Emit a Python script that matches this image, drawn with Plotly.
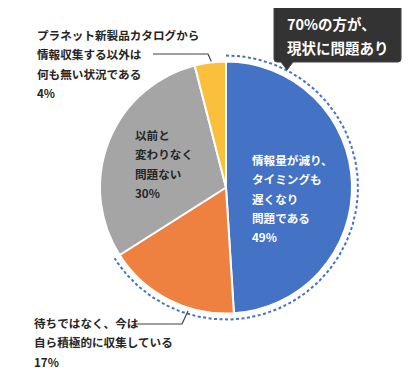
import numpy as np
import plotly.graph_objects as go

# ---- data ----
categories = ["情報量が減り、タイミングも遅くなり問題である",
              "待ちではなく、今は自ら積極的に収集している",
              "以前と変わりなく問題ない",
              "プラネット新製品カタログから情報収集する以外は何も無い状況である"]
values = [49, 17, 30, 4]
colors = ["#4472C4", "#EE8040", "#A5A5A5", "#FAC03D"]
label_blue = ["情報量が減り、", "タイミングも", "遅くなり", "問題である", "49%"]
label_gray = ["以前と", "変わりなく", "問題ない", "30%"]
label_yellow = ["プラネット新製品カタログから", "情報収集する以外は", "何も無い状況である", "4%"]
label_orange = ["待ちではなく、今は", "自ら積極的に収集している", "17%"]
callout = ["70%の方が、", "現状に問題あり"]

# page body has an 8px margin: map reference pixels onto a smaller figure
OFF = 8
X0, X1, Y0, Y1 = OFF, 404, OFF, 372
FW, FH = X1 - X0, Y1 - Y0
cx, cy, r = 226, 187.5, 126
FONT = "Noto Sans CJK JP"

fig = go.Figure()
fig.add_trace(go.Pie(
    labels=categories, values=values, sort=False, direction="clockwise", rotation=0,
    marker=dict(colors=colors, line=dict(color="white", width=2)),
    textinfo="none", hoverinfo="label+percent", showlegend=False,
    domain=dict(x=[(cx - r - X0) / FW, (cx + r - X0) / FW],
                y=[(Y1 - cy - r) / FH, (Y1 - cy + r) / FH]),
))

# dotted arc around the "problem" share (blue + orange)
frac = (values[0] + values[1]) / sum(values)
R = r + 6
th = np.linspace(0, frac * 2 * np.pi, 200)
fig.add_trace(go.Scatter(x=cx + R * np.sin(th), y=cy - R * np.cos(th), mode="lines",
                         line=dict(color="#4472C4", width=2, dash="3px,2.5px"),
                         hoverinfo="skip", showlegend=False))

# leader lines
fig.add_trace(go.Scatter(x=[153, 208, 212], y=[54, 54, 63], mode="lines",
                         line=dict(color="#404040", width=1.2), hoverinfo="skip", showlegend=False))
fig.add_trace(go.Scatter(x=[133, 182, 188], y=[324, 324, 311], mode="lines",
                         line=dict(color="#404040", width=1.2), hoverinfo="skip", showlegend=False))

ann = []
def add_lines(lines, x, y0, dy, color, size=11.6):
    for i, t in enumerate(lines):
        ann.append(dict(x=x, y=y0 + i * dy, xref="x", yref="y", text=t, showarrow=False,
                        xanchor="left", yanchor="middle",
                        font=dict(family=FONT, size=size, color=color, weight="bold")))

add_lines(label_yellow, 35, 35, 19.4, "#262626")
add_lines(label_orange, 32, 323, 19.3, "#262626")
add_lines(label_gray, 133, 135, 19.3, "#262626")
add_lines(label_blue, 250, 160, 19.3, "#FFFFFF")
add_lines(callout, 285, 23, 24, "#FFFFFF", size=14.5)

# callout box with pointer
bx0, bx1, by0, by1, rr = 274, 401, 5, 62, 3
path = (f"M {bx0+rr},{by0} L {bx1-rr},{by0} Q {bx1},{by0} {bx1},{by0+rr} L {bx1},{by1-rr} "
        f"Q {bx1},{by1} {bx1-rr},{by1} L 293,{by1} L 287,70 L 281,{by1} L {bx0+rr},{by1} "
        f"Q {bx0},{by1} {bx0},{by1-rr} L {bx0},{by0+rr} Q {bx0},{by0} {bx0+rr},{by0} Z")
shapes = [dict(type="path", path=path, xref="x", yref="y", fillcolor="#333333",
               line=dict(color="#444444", width=1), layer="above")]

fig.update_layout(
    width=FW, height=FH, margin=dict(l=0, r=0, t=0, b=0),
    paper_bgcolor="white", plot_bgcolor="rgba(0,0,0,0)",
    xaxis=dict(range=[X0, X1], visible=False, domain=[0, 1], fixedrange=True),
    yaxis=dict(range=[Y1, Y0], visible=False, domain=[0, 1], fixedrange=True),
    annotations=ann, shapes=shapes, showlegend=False,
)
fig.write_html("out.html")
